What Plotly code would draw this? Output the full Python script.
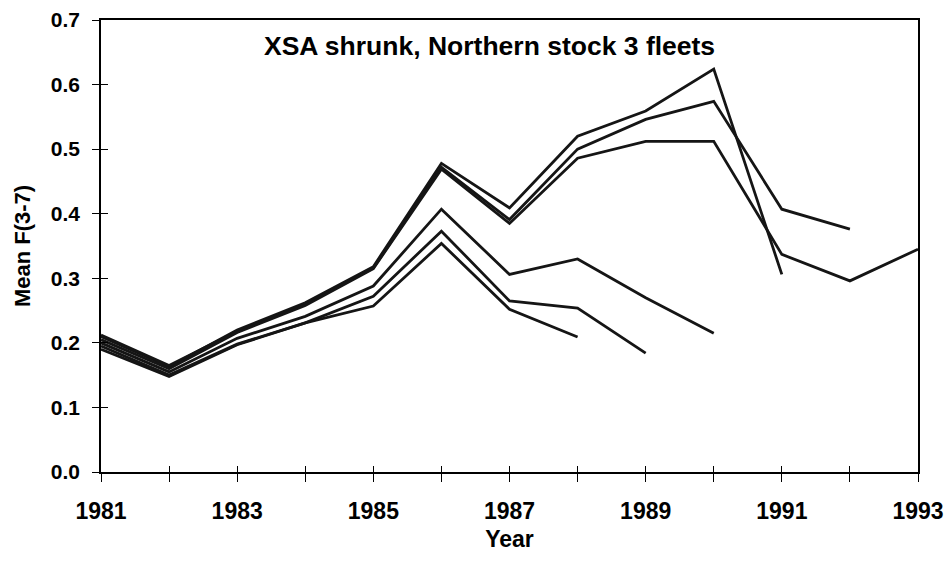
import plotly.graph_objects as go

years = list(range(1981, 1994))

# Retrospective runs (terminal year 1988 ... 1993)
run_1988 = [0.190, 0.148, 0.197, 0.231, 0.257, 0.354, 0.252, 0.209]
run_1989 = [0.195, 0.150, 0.198, 0.231, 0.272, 0.373, 0.265, 0.254, 0.184]
run_1990 = [0.200, 0.155, 0.207, 0.241, 0.288, 0.407, 0.306, 0.330, 0.270, 0.215]
run_1991 = [0.210, 0.163, 0.220, 0.262, 0.318, 0.478, 0.409, 0.520, 0.559, 0.624, 0.306]
run_1992 = [0.212, 0.165, 0.218, 0.260, 0.316, 0.472, 0.391, 0.500, 0.546, 0.574, 0.407, 0.376]
run_1993 = [0.205, 0.160, 0.216, 0.258, 0.315, 0.469, 0.385, 0.486, 0.512, 0.512, 0.337, 0.296, 0.345]

runs = [run_1988, run_1989, run_1990, run_1991, run_1992, run_1993]

x_tick_vals = years
x_tick_text = [str(y) if (y - 1981) % 2 == 0 else "" for y in years]
y_tick_vals = [0.0, 0.1, 0.2, 0.3, 0.4, 0.5, 0.6, 0.7]
y_tick_text = ["0.0", "0.1", "0.2", "0.3", "0.4", "0.5", "0.6", "0.7"]

title_text = "XSA shrunk, Northern stock 3 fleets"
x_title = "Year"
y_title = "Mean F(3-7)"

FONT = "Liberation Sans, Arial, sans-serif"
INK = "#151515"

fig = go.Figure()
for r in runs:
    fig.add_trace(go.Scatter(
        x=years[:len(r)], y=r, mode="lines",
        line=dict(color=INK, width=2.8),
        showlegend=False, hoverinfo="skip",
    ))
# helper trace for the overlay axes (inside tick marks)
fig.add_trace(go.Scatter(x=[None], y=[None], xaxis="x2", yaxis="y2",
                         mode="lines", showlegend=False, hoverinfo="skip"))

fig.update_layout(
    width=947, height=564,
    margin=dict(l=101, r=29, t=20, b=92),
    paper_bgcolor="white", plot_bgcolor="white",
    font=dict(family=FONT, color="black"),
    xaxis=dict(
        range=[1981, 1993], tickmode="array", tickvals=x_tick_vals, ticktext=x_tick_text,
        ticks="outside", ticklen=8, tickwidth=1, tickcolor="black",
        showline=True, linecolor="black", linewidth=1.5, mirror=True,
        showgrid=False, zeroline=False, automargin=False,
        tickfont=dict(family=FONT, size=23, color="black", weight="bold"),
        ticklabelstandoff=10,
        title=dict(text="<b>" + x_title + "</b>", font=dict(family=FONT, size=23), standoff=8),
    ),
    yaxis=dict(
        range=[0, 0.7], tickmode="array", tickvals=y_tick_vals, ticktext=y_tick_text,
        ticks="outside", ticklen=7, tickwidth=1, tickcolor="black",
        showline=True, linecolor="black", linewidth=1.5, mirror=True,
        showgrid=False, zeroline=False, automargin=False,
        tickfont=dict(family=FONT, size=21, color="black", weight="bold"),
        ticklabelstandoff=8,
        title=dict(text="<b>" + y_title + "</b>", font=dict(family=FONT, size=22), standoff=14),
    ),
    xaxis2=dict(
        range=[1981, 1993], overlaying="x", tickmode="array", tickvals=x_tick_vals,
        ticks="inside", ticklen=6, tickwidth=1, tickcolor="black", automargin=False,
        showticklabels=False, showgrid=False, zeroline=False, showline=False,
    ),
    yaxis2=dict(
        range=[0, 0.7], overlaying="y", tickmode="array", tickvals=y_tick_vals,
        ticks="inside", ticklen=7, tickwidth=1, tickcolor="black", automargin=False,
        showticklabels=False, showgrid=False, zeroline=False, showline=False,
    ),
    annotations=[dict(
        text="<b>" + title_text + "</b>", xref="paper", yref="paper",
        x=0.475, y=0.942, xanchor="center", yanchor="middle", showarrow=False,
        font=dict(family=FONT, size=26.5, color="black"),
    )],
)

fig.write_html("out.html", config={"displayModeBar": False},
               post_script="document.body.style.margin='0px';")
